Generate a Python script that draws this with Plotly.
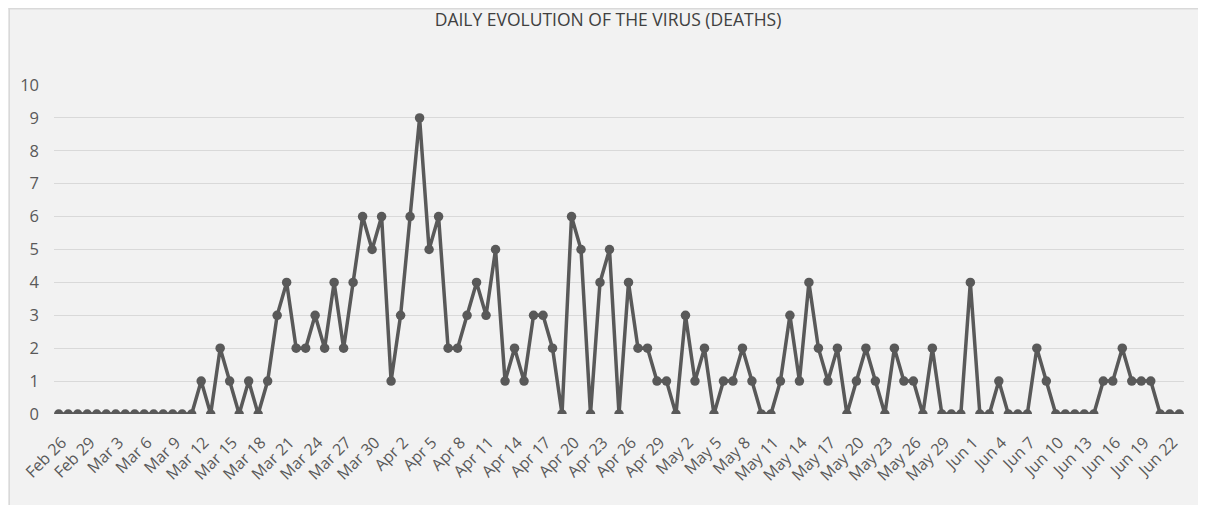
import plotly.graph_objects as go
import datetime as dt

start = dt.date(2020, 2, 26)
deaths = [
    0, 0, 0, 0, 0, 0, 0, 0, 0, 0, 0, 0, 0, 0, 0,   # Feb26 - Mar11
    1, 0, 2, 1, 0, 1, 0, 1, 3, 4,                   # Mar12 - Mar21
    2, 2, 3, 2, 4, 2, 4, 6, 5, 6,                   # Mar22 - Mar31
    1, 3, 6, 9, 5, 6, 2, 2, 3, 4,                   # Apr1 - Apr10
    3, 5, 1, 2, 1, 3, 3, 2, 0, 6,                   # Apr11 - Apr20
    5, 0, 4, 5, 0, 4, 2, 2, 1, 1,                   # Apr21 - Apr30
    0, 3, 1, 2, 0, 1, 1, 2, 1, 0,                   # May1 - May10
    0, 1, 3, 1, 4, 2, 1, 2, 0, 1,                   # May11 - May20
    2, 1, 0, 2, 1, 1, 0, 2, 0, 0, 0,                # May21 - May31
    4, 0, 0, 1, 0, 0, 0, 2, 1, 0,                   # Jun1 - Jun10
    0, 0, 0, 0, 1, 1, 2, 1, 1, 1,                   # Jun11 - Jun20
    0, 0, 0,                                        # Jun21 - Jun23
]
dates = [(start + dt.timedelta(days=i)) for i in range(len(deaths))]
categories = [f"{d.strftime('%b')} {d.day}" for d in dates]
tick_labels = categories[::3]

fig = go.Figure()
fig.add_trace(go.Scatter(
    x=categories, y=deaths, mode="lines+markers",
    line=dict(color="#595959", width=3.5),
    marker=dict(color="#595959", size=9.5),
    showlegend=False,
))

# page is offset by 8px body margin; figure fills the rest of the window
W, H = 1198, 497
L, R, T, B = 45.5, 22, 77, 91
pw = W - L - R
ph = H - T - B

def px(x):
    return (x - L) / pw

def py(y):
    return (H - B - y) / ph

# thin light border on the chart area's left/top edges
fig.add_shape(type="line", xref="paper", yref="paper",
              x0=px(0.75), x1=px(0.75), y0=py(0), y1=py(H + 10),
              line=dict(color="#d9d9d9", width=1.5), layer="below")
fig.add_shape(type="line", xref="paper", yref="paper",
              x0=px(0), x1=px(W + 10), y0=py(0.75), y1=py(0.75),
              line=dict(color="#d9d9d9", width=1.5), layer="below")

fig.update_layout(
    width=W, height=H,
    margin=dict(l=L, r=R, t=T, b=B, autoexpand=False),
    paper_bgcolor="#f2f2f2",
    plot_bgcolor="#f2f2f2",
    font=dict(family="Open Sans, sans-serif", color="#595959"),
    title=dict(text="DAILY EVOLUTION OF THE VIRUS (DEATHS)", x=(608 - 8) / W, xanchor="center",
               y=1 - 12 / H, yanchor="middle",
               font=dict(size=17.5, color="#404040")),
    xaxis=dict(
        type="category", tickmode="array", tickvals=tick_labels, ticktext=tick_labels,
        tickangle=-45, tickfont=dict(size=16, color="#595959"),
        showgrid=False, showline=False, ticks="", zeroline=False,
        range=[-0.5, len(categories) - 0.5], ticklabelstandoff=15, ticklabelshift=3,
    ),
    yaxis=dict(
        range=[0, 10], dtick=1, tickfont=dict(size=16.5, color="#595959"),
        showgrid=True, gridcolor="#d9d9d9", gridwidth=1.3,
        zeroline=False, showline=False, ticks="", ticklabelstandoff=14,
    ),
)

fig.write_html("out.html")
